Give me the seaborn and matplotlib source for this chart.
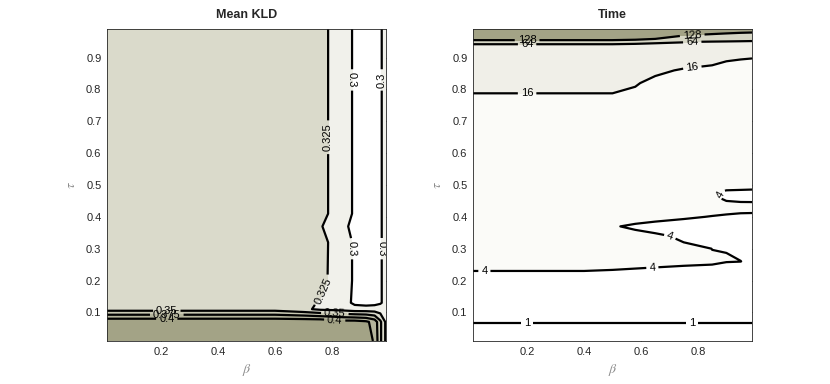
"""
Mapas de contorno: Mean KLD y Time en función de beta y tau.
"""
import numpy as np
import matplotlib
matplotlib.use('Agg')
import matplotlib.pyplot as plt
import seaborn as sns

sns.set_theme(style='ticks')
plt.rcParams['font.family'] = ['Liberation Sans', 'DejaVu Sans']
plt.rcParams['mathtext.fontset'] = 'stix'

# ─────────────────────────────────────────────
# Datos: Mean KLD
# ─────────────────────────────────────────────
kld_beta = [0.01, 0.2, 0.4, 0.6, 0.7, 0.76, 0.8, 0.84, 0.88, 0.92, 0.95, 0.97, 0.99]
kld_tau = [0.01, 0.07, 0.11, 0.13, 0.2, 0.32, 0.37, 0.41, 0.6, 0.8, 0.99]
kld_rows = [
    [0.43, 0.43, 0.43, 0.43, 0.43, 0.43, 0.43, 0.43, 0.43, 0.42, 0.395, 0.355, 0.32],
    [0.42, 0.42, 0.42, 0.42, 0.42, 0.42, 0.415, 0.41, 0.41, 0.405, 0.39, 0.355, 0.32],
    [0.34, 0.34, 0.34, 0.34, 0.33, 0.32, 0.318, 0.315, 0.31, 0.31, 0.31, 0.31, 0.312],
    [0.33, 0.33, 0.33, 0.33, 0.328, 0.324, 0.32, 0.31, 0.295, 0.292, 0.294, 0.298, 0.306],
    [0.33, 0.33, 0.33, 0.33, 0.33, 0.329, 0.3225, 0.31, 0.297, 0.292, 0.294, 0.298, 0.306],
    [0.33, 0.33, 0.33, 0.33, 0.33, 0.33, 0.3225, 0.31, 0.297, 0.292, 0.294, 0.298, 0.306],
    [0.33, 0.33, 0.33, 0.33, 0.33, 0.3255, 0.3225, 0.303, 0.296, 0.292, 0.294, 0.298, 0.306],
    [0.33, 0.33, 0.33, 0.33, 0.33, 0.33, 0.3225, 0.31, 0.297, 0.292, 0.294, 0.298, 0.306],
    [0.33, 0.33, 0.33, 0.33, 0.33, 0.33, 0.3225, 0.31, 0.297, 0.292, 0.294, 0.298, 0.306],
    [0.33, 0.33, 0.33, 0.33, 0.33, 0.33, 0.3225, 0.31, 0.297, 0.292, 0.294, 0.298, 0.306],
    [0.33, 0.33, 0.33, 0.33, 0.33, 0.33, 0.3225, 0.31, 0.297, 0.292, 0.294, 0.298, 0.306],
]
kld_levels = [0.3, 0.325, 0.35, 0.375, 0.4]

# ─────────────────────────────────────────────
# Datos: Time
# ─────────────────────────────────────────────
time_beta = [0.01, 0.2, 0.4, 0.5, 0.58, 0.65, 0.75, 0.85, 0.9, 0.95, 0.99]
time_tau = [0.01, 0.12, 0.2, 0.26, 0.3, 0.34, 0.37, 0.4, 0.43, 0.46, 0.48, 0.5,
            0.6, 0.7, 0.78, 0.82, 0.86, 0.9, 0.93, 0.95, 0.97, 0.99]
time_rows = [
    [0.6, 0.6, 0.6, 0.6, 0.6, 0.6, 0.6, 0.6, 0.6, 0.6, 0.6],
    [1.4, 1.4, 1.4, 1.4, 1.4, 1.4, 1.4, 1.4, 1.4, 1.4, 1.4],
    [3.5, 3.5, 3.5, 3.5, 3.5, 3.5, 3.5, 3.5, 3.5, 3.5, 3.4],
    [4.5, 4.5, 4.5, 4.4, 4.3, 4.23, 4.15, 4.1, 4.02, 4.005, 3.9],
    [5.0, 5.0, 5.0, 5.0, 4.9, 4.8, 4.4, 3.99, 3.99, 3.9, 3.85],
    [5.5, 5.5, 5.5, 5.0, 4.7, 4.4, 3.6, 3.3, 3.3, 3.4, 3.4],
    [6.0, 6.0, 6.0, 4.21, 3.6, 3.0, 3.0, 3.0, 3.0, 3.2, 3.2],
    [6.5, 6.5, 6.5, 5.2, 5.1, 5.0, 4.3, 3.9, 3.8, 3.7, 3.6],
    [7.0, 7.0, 7.0, 5.5, 5.5, 5.5, 5.5, 5.0, 4.6, 4.5, 4.6],
    [7.5, 7.5, 7.5, 6.0, 6.0, 6.0, 5.5, 4.3, 3.7, 3.6, 3.5],
    [8.0, 8.0, 8.0, 6.5, 6.2, 6.0, 6.0, 4.6, 3.8, 3.7, 3.6],
    [8.5, 8.5, 8.5, 7.0, 6.8, 6.5, 6.0, 6.0, 5.0, 5.0, 5.0],
    [9.0, 9.0, 9.0, 8.0, 7.5, 7.0, 7.0, 7.0, 7.0, 7.0, 7.0],
    [12.0, 12.0, 12.0, 11.0, 10.0, 9.0, 9.0, 9.0, 9.0, 9.0, 9.0],
    [15.5, 15.5, 15.5, 15.5, 14.0, 11.0, 10.5, 10.5, 10.5, 10.5, 10.5],
    [18.0, 18.0, 18.0, 18.0, 16.8, 13.5, 12.0, 12.0, 12.0, 12.0, 12.0],
    [22.0, 22.0, 22.0, 22.0, 20.0, 18.0, 15.0, 14.0, 13.5, 13.0, 13.0],
    [30.0, 30.0, 30.0, 30.0, 29.0, 28.0, 22.0, 19.0, 17.0, 16.5, 16.2],
    [50.0, 50.0, 50.0, 50.0, 48.0, 45.0, 45.0, 45.0, 45.0, 44.0, 44.0],
    [73.0, 73.0, 73.0, 73.0, 72.0, 70.0, 66.0, 63.0, 62.0, 61.0, 60.0],
    [293.0, 293.0, 293.0, 293.0, 250.0, 200.0, 130.0, 110.0, 105.0, 100.0, 98.0],
    [400.0, 400.0, 400.0, 400.0, 400.0, 400.0, 250.0, 200.0, 180.0, 170.0, 165.0],
]
time_levels = [1, 4, 16, 64, 128]

kld_colors = ['#ffffff', '#f1f1eb', '#dadacb', '#c7c7b2', '#b4b49c', '#a3a386']
time_colors = ['#ffffff', '#ffffff', '#fbfbf8', '#f0efe8', '#d6d6c5', '#a3a386']

W, H = 830, 384
fig = plt.figure(figsize=(W / 100, H / 100), dpi=100)
ax1 = fig.add_axes([107 / W, 1 - 341 / H, 279 / W, 312 / H])
ax2 = fig.add_axes([473 / W, 1 - 341 / H, 279 / W, 312 / H])


def draw_panel(ax, xs, ys, rows, levels, colors, lo, hi, title, label_pos):
    Z = np.array(rows)
    X, Y = np.meshgrid(xs, ys)
    ax.contourf(X, Y, Z, levels=[lo] + levels + [hi], colors=colors)
    cs = ax.contour(X, Y, Z, levels=levels, colors='black', linewidths=1.6)
    ax.clabel(cs, fmt='%g', fontsize=8, inline=True, inline_spacing=3, manual=label_pos)
    ax.set_xlim(0.01, 0.99)
    ax.set_ylim(0.01, 0.99)
    ax.set_xticks([0.2, 0.4, 0.6, 0.8])
    ax.set_yticks([0.1, 0.2, 0.3, 0.4, 0.5, 0.6, 0.7, 0.8, 0.9])
    ax.tick_params(direction='in', top=True, right=True, length=3, width=0.6,
                   labelsize=8, colors='#262626', pad=4)
    for sp in ax.spines.values():
        sp.set_color('#262626')
        sp.set_linewidth(0.6)
    ax.set_xlabel(r'$\beta$', fontsize=10, color='#8c8c8c', labelpad=4)
    ax.set_ylabel(r'$\tau$', fontsize=10, color='#8c8c8c', labelpad=6)
    ax.set_title(title, fontsize=9, fontweight='bold', pad=8)


draw_panel(ax1, kld_beta, kld_tau, kld_rows, kld_levels, kld_colors, 0.2, 0.5, 'Mean KLD',
           [(0.79, 0.65), (0.87, 0.83), (0.975, 0.83), (0.86, 0.3), (0.975, 0.3),
            (0.765, 0.17), (0.22, 0.105), (0.22, 0.093), (0.22, 0.08),
            (0.81, 0.092), (0.81, 0.078)])
draw_panel(ax2, time_beta, time_tau, time_rows, time_levels, time_colors, 0.0, 1000.0, 'Time',
           [(0.2, 0.955), (0.2, 0.942), (0.78, 0.97), (0.78, 0.952), (0.2, 0.786),
            (0.78, 0.872), (0.05, 0.232), (0.64, 0.24), (0.7, 0.335), (0.2, 0.067),
            (0.78, 0.068), (0.88, 0.47)])

plt.savefig('out.png', dpi=100)
plt.close()
